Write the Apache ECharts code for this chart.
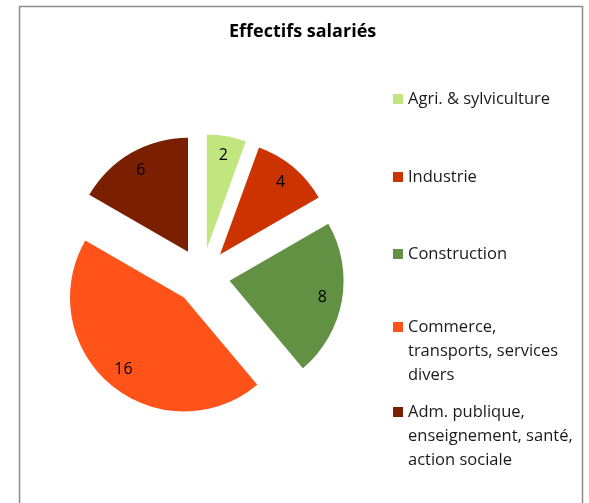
<!DOCTYPE html>
<html>
<head>
<meta charset="utf-8">
<script src="https://cdn.jsdelivr.net/npm/echarts@6/dist/echarts.min.js"></script>
<style>
html,body{margin:0;padding:0;background:#fff;}
#chart{width:589px;height:503px;}
</style>
</head>
<body>
<div id="chart"></div>
<script>
const categories = ['Agri. & sylviculture', 'Industrie', 'Construction', 'Commerce,\ntransports, services\ndivers', 'Adm. publique,\nenseignement, santé,\naction sociale'];
const values = [2, 4, 8, 16, 6];
const colors = ['#C1E57F', '#CC3300', '#629143', '#FF5319', '#7A1F00'];
const title = 'Effectifs salariés';

const FONT = '"Open Sans"';
const center = [202, 276];
const R = 114;
const offset = 28;
const legendFirstLine = [99, 177, 254, 327, 412];
const LH = 24;

const chart = echarts.init(document.getElementById('chart'), null, {renderer: 'canvas'});

const legends = categories.map((name, i) => {
  const n = name.split('\n').length;
  const total = 2 * n - 1;
  return {
    orient: 'vertical',
    left: 393,
    top: legendFirstLine[i] - total * LH / 2,
    padding: 0,
    itemWidth: 10,
    itemHeight: 10,
    icon: 'rect',
    data: [name],
    formatter: nm => '\n'.repeat(n - 1) + nm,
    textStyle: {
      fontFamily: FONT,
      fontSize: 16.5,
      color: '#1a1a1a',
      lineHeight: LH
    }
  };
});

const mainData = categories.map((name, i) => ({
  name: name, value: values[i], selected: true,
  itemStyle: {color: colors[i]}
}));
const labelData = categories.map((name, i) => ({
  name: name, value: values[i], selected: true
}));

chart.setOption({
  animation: false,
  title: {
    text: title,
    left: 229,
    top: 23,
    padding: 0,
    textStyle: {fontFamily: FONT, fontWeight: 'bold', fontSize: 18, color: '#000'}
  },
  legend: legends,
  graphic: [{
    type: 'rect',
    shape: {x: 19.5, y: 6.5, width: 563, height: 510},
    style: {fill: 'none', stroke: '#8c8c8c', lineWidth: 1.5},
    silent: true,
    z: -10
  }],
  series: [{
    type: 'pie',
    center: center,
    radius: [0, R],
    startAngle: 90,
    clockwise: true,
    selectedMode: 'multiple',
    selectedOffset: offset,
    avoidLabelOverlap: false,
    label: {show: false},
    labelLine: {show: false},
    emphasis: {scale: false},
    data: mainData
  }, {
    type: 'pie',
    center: center,
    radius: [R * 0.6, R],
    startAngle: 90,
    clockwise: true,
    selectedMode: 'multiple',
    selectedOffset: offset,
    silent: true,
    avoidLabelOverlap: false,
    itemStyle: {color: 'rgba(0,0,0,0)'},
    label: {show: true, position: 'inside', fontFamily: FONT, fontSize: 16, color: '#000', formatter: '{c}'},
    labelLine: {show: false},
    emphasis: {scale: false},
    data: labelData
  }]
});
</script>
</body>
</html>
